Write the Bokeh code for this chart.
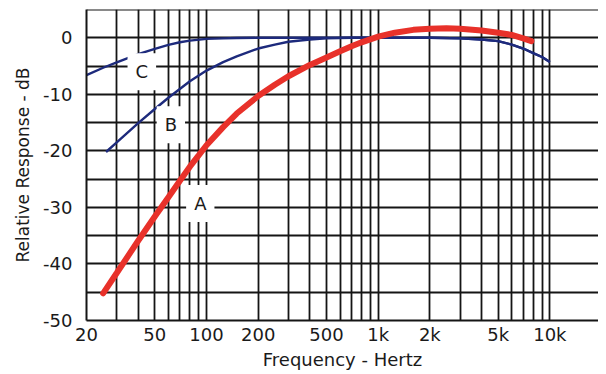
from bokeh.plotting import figure
from bokeh.models import FixedTicker, Label, Span
from bokeh.embed import file_html
from bokeh.resources import INLINE

# Curve A (red)
a_freq = [25, 30, 40, 50, 60, 70, 80, 90, 100, 125, 150, 200, 250, 300, 400,
          500, 600, 700, 800, 1000, 1250, 1600, 2000, 2500, 3000, 4000, 5000,
          6000, 7000, 7800]
a_db = [-45.2, -41.6, -35.9, -31.6, -28.2, -25.3, -22.8, -20.8, -19.0, -15.8,
        -13.4, -10.3, -8.3, -6.8, -4.8, -3.5, -2.4, -1.5, -0.8, 0.2, 0.9, 1.4,
        1.6, 1.7, 1.6, 1.3, 0.9, 0.5, -0.1, -0.6]

# Curve B (blue)
b_freq = [26, 30, 40, 50, 60, 80, 100, 125, 150, 200, 250, 300, 400, 500, 700,
          1000, 2000, 3000, 4000, 5000, 6000, 7000, 8000, 9000, 10000]
b_db = [-20.2, -18.5, -15.1, -12.6, -10.6, -7.7, -5.8, -4.3, -3.3, -1.9, -1.2,
        -0.7, -0.3, -0.1, 0.0, 0.0, 0.0, -0.1, -0.3, -0.6, -1.2, -1.9, -2.7,
        -3.4, -4.3]

# Curve C (blue)
c_freq = [20, 25, 30, 40, 50, 60, 70, 80, 100, 125, 150, 200, 500, 1000, 2000,
          3000, 4000, 5000, 6000, 7000, 8000, 9000, 10000]
c_db = [-6.6, -5.3, -4.35, -2.9, -1.95, -1.25, -0.8, -0.5, -0.2, -0.1, -0.05,
        0.0, 0.0, 0.0, 0.0, -0.1, -0.3, -0.6, -1.2, -1.9, -2.7, -3.4, -4.3]

# Curve labels
label_text = ["C", "B", "A"]
label_freq = [42, 62, 92]
label_db = [-6.0, -15.4, -29.3]

# Axis ticks
x_tick_vals = [20, 50, 100, 200, 500, 1000, 2000, 5000, 10000]
x_tick_text = ["20", "50", "100", "200", "500", "1k", "2k", "5k", "10k"]
x_grid_vals = [20, 30, 40, 50, 60, 70, 80, 90,
               100, 200, 300, 400, 500, 600, 700, 800, 900,
               1000, 2000, 3000, 4000, 5000, 6000, 7000, 8000, 9000, 10000]
y_tick_vals = [-50, -40, -30, -20, -10, 0]
y_grid_vals = [-50, -45, -40, -35, -30, -25, -20, -15, -10, -5, 0, 5]

FONT = "DejaVu Sans"
GRID = "#151515"
BLUE = "#1d2a7c"
RED = "#e8312a"

p = figure(width=598, height=372, x_axis_type="log",
           x_range=(20, 19200), y_range=(-50, 5),
           output_backend="svg", toolbar_location=None,
           min_border_left=86, min_border_right=0, min_border_top=9,
           min_border_bottom=0)
p.outline_line_color = None
p.background_fill_color = "white"

# grids
p.xgrid.ticker = FixedTicker(ticks=x_grid_vals)
p.ygrid.ticker = FixedTicker(ticks=y_grid_vals)
for g in (p.xgrid, p.ygrid):
    g.grid_line_color = GRID
    g.grid_line_width = 1.8
    g.grid_line_alpha = 1.0

p.add_layout(Span(location=5, dimension="width", line_color=GRID, line_width=2))

# axes
p.xaxis.ticker = FixedTicker(ticks=x_tick_vals)
p.xaxis.major_label_overrides = {v: t for v, t in zip(x_tick_vals, x_tick_text)}
p.yaxis.ticker = FixedTicker(ticks=y_tick_vals)
p.yaxis.major_label_overrides = {v: str(v) for v in y_tick_vals}

for ax in (p.xaxis[0], p.yaxis[0]):
    ax.axis_line_color = GRID
    ax.axis_line_width = 2
    ax.major_tick_line_color = None
    ax.minor_tick_line_color = None
    ax.major_tick_in = 0
    ax.major_tick_out = 0
    ax.minor_tick_in = 0
    ax.minor_tick_out = 0
    ax.major_label_text_font = FONT
    ax.major_label_text_font_size = "18px"
    ax.major_label_text_color = "#1a1a1a"
    ax.axis_label_text_font = FONT
    ax.axis_label_text_font_style = "normal"
    ax.axis_label_text_color = "#1a1a1a"

p.xaxis.axis_label = "Frequency - Hertz"
p.xaxis.axis_label_text_font_size = "18px"
p.xaxis.major_label_standoff = 3
p.xaxis.axis_label_standoff = 1

p.yaxis.axis_label = "Relative Response - dB"
p.yaxis.axis_label_text_font_size = "17px"
p.yaxis.major_label_standoff = 14
p.yaxis.axis_label_standoff = 7

# curves
p.line(c_freq, c_db, line_color=BLUE, line_width=2.4)
p.line(b_freq, b_db, line_color=BLUE, line_width=2.4)
p.line(a_freq, a_db, line_color=RED, line_width=6, line_cap="round")

for t, f, d in zip(label_text, label_freq, label_db):
    p.add_layout(Label(x=f, y=d, text=t, text_align="center",
                       text_baseline="middle", text_font=FONT,
                       text_font_size="18px", text_color="#1a1a1a",
                       background_fill_color="white", padding=8))

open("out.html", "w").write(file_html(p, INLINE))
